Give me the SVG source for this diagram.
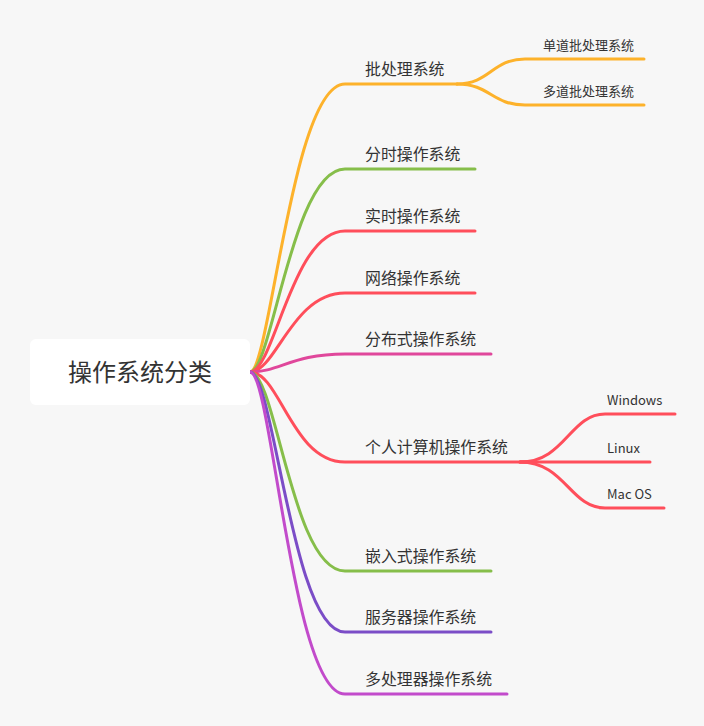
<svg xmlns="http://www.w3.org/2000/svg" width="704" height="726" viewBox="0 0 704 726">
<style>
.c{fill:none;stroke-width:3;stroke-linecap:round}
.t{font-family:"Noto Sans CJK SC","Liberation Sans",sans-serif;fill:#333}
.b{font-size:15.9px}
.s{font-size:13px}
.y{stroke:#FDB22B}.g{stroke:#86BE4A}.r{stroke:#FF4E5B}.m{stroke:#E0479B}.p{stroke:#7B4DC7}.k{stroke:#C24BCB}
</style>
<rect width="704" height="726" fill="#f7f7f7"/>
<g id="connectors">
<path class="c y" d="M250,372 C270,372 292,84 345,84 L457,84"/>
<path class="c y" d="M457,84 C490,84 492,59 525,59 L644,59"/>
<path class="c y" d="M457,84 C490,84 492,105 525,105 L644,105"/>
<path class="c g" d="M250,372 C272,372 292,169 345,169 L475,169"/>
<path class="c r" d="M250,372 C274,372 292,231 345,231 L475,231"/>
<path class="c r" d="M250,372 C276,372 292,293 345,293 L475,293"/>
<path class="c m" d="M250,372 C280,372 292,354 345,354 L491,354"/>
<path class="c r" d="M250,372 C280,372 292,462 345,462 L530,462"/>
<path class="c r" d="M520,462 C565,462 570,414 605,414 L675,414"/>
<path class="c r" d="M520,462 L650,462"/>
<path class="c r" d="M520,462 C565,462 570,508 605,508 L664,508"/>
<path class="c g" d="M250,372 C276,372 292,571 345,571 L491,571"/>
<path class="c p" d="M250,372 C274,372 292,632 345,632 L491,632"/>
<path class="c k" d="M250,372 C272,372 292,694 345,694 L507,694"/>
</g>
<g id="root">
<rect x="30" y="339" width="220" height="66" rx="6" fill="#fff"/>
<text class="t" x="140" y="381" font-size="24" text-anchor="middle">操作系统分类</text>
</g>
<g id="n1"><text class="t b" x="365" y="75">批处理系统</text></g>
<g id="n1a"><text class="t s" x="543" y="50">单道批处理系统</text></g>
<g id="n1b"><text class="t s" x="543" y="96">多道批处理系统</text></g>
<g id="n2"><text class="t b" x="365" y="160">分时操作系统</text></g>
<g id="n3"><text class="t b" x="365" y="222">实时操作系统</text></g>
<g id="n4"><text class="t b" x="365" y="284">网络操作系统</text></g>
<g id="n5"><text class="t b" x="365" y="345">分布式操作系统</text></g>
<g id="n6"><text class="t b" x="365" y="453">个人计算机操作系统</text></g>
<g id="n6a"><text class="t s" x="607" y="405">Windows</text></g>
<g id="n6b"><text class="t s" x="607" y="453">Linux</text></g>
<g id="n6c"><text class="t s" x="607" y="499">Mac OS</text></g>
<g id="n7"><text class="t b" x="365" y="562">嵌入式操作系统</text></g>
<g id="n8"><text class="t b" x="365" y="623">服务器操作系统</text></g>
<g id="n9"><text class="t b" x="365" y="685">多处理器操作系统</text></g>
</svg>
